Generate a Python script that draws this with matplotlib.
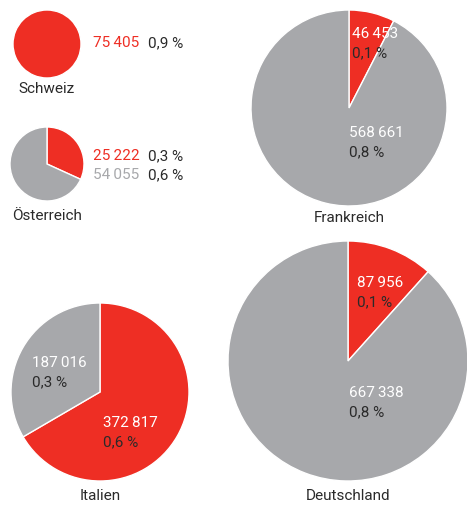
import matplotlib.pyplot as plt

# data
countries = ['Schweiz', 'Österreich', 'Frankreich', 'Italien', 'Deutschland']
red_vals = [75405, 25222, 46453, 372817, 87956]
grey_vals = [0, 54055, 568661, 187016, 667338]
red_pct = ['0,9 %', '0,3 %', '0,1 %', '0,6 %', '0,1 %']
grey_pct = ['', '0,6 %', '0,8 %', '0,3 %', '0,8 %']

RED = '#ee2e24'
GREY = '#a7a8ab'
DARK = '#2a2a2a'
W, H = 467, 505

plt.rcParams['font.family'] = ['Roboto', 'DejaVu Sans']

# layout in pixel coords: centre x, centre y, radius
layout = [(47, 44, 34), (47, 164, 37), (349, 108, 98), (100, 392, 89), (348, 361, 120)]
label_y = [89, 216, 218, 496, 496]


def fmt(v):
    return f'{v:,}'.replace(',', '\u2009')


fig = plt.figure(figsize=(W / 100, H / 100), dpi=100)
ax = fig.add_axes([0, 0, 1, 1])

fs = 11
for i, name in enumerate(countries):
    cx, cy, r = layout[i]
    vals = [red_vals[i]] + ([grey_vals[i]] if grey_vals[i] else [])
    cols = [RED, GREY][:len(vals)]
    ax.pie(vals, colors=cols, center=(cx, H - cy), radius=r, startangle=90,
           counterclock=False, wedgeprops=dict(edgecolor='white', linewidth=1))
    ax.text(cx, H - label_y[i], name, ha='center', va='center', fontsize=fs, color=DARK)

# Schweiz / Österreich: numbers beside the pie
ax.text(93, H - 43, fmt(red_vals[0]), color=RED, fontsize=fs, va='center')
ax.text(148, H - 43, red_pct[0], color=DARK, fontsize=fs, va='center')
ax.text(93, H - 156, fmt(red_vals[1]), color=RED, fontsize=fs, va='center')
ax.text(148, H - 156, red_pct[1], color=DARK, fontsize=fs, va='center')
ax.text(93, H - 175, fmt(grey_vals[1]), color=GREY, fontsize=fs, va='center')
ax.text(148, H - 175, grey_pct[1], color=DARK, fontsize=fs, va='center')

# labels inside the big pies: (x, y red value, y grey value)
inside = {2: ((352, 34), (349, 133)), 3: ((103, 423), (32, 363)), 4: ((357, 283), (349, 393))}
for i, ((rx, ry), (gx, gy)) in inside.items():
    ax.text(rx, H - ry, fmt(red_vals[i]), color='white', fontsize=fs, va='center')
    ax.text(rx, H - ry - 19, red_pct[i], color=DARK, fontsize=fs, va='center')
    ax.text(gx, H - gy, fmt(grey_vals[i]), color='white', fontsize=fs, va='center')
    ax.text(gx, H - gy - 19, grey_pct[i], color=DARK, fontsize=fs, va='center')

ax.set_xlim(0, W)
ax.set_ylim(0, H)
ax.set_aspect('equal')
ax.axis('off')
fig.savefig('out.png', dpi=100)
